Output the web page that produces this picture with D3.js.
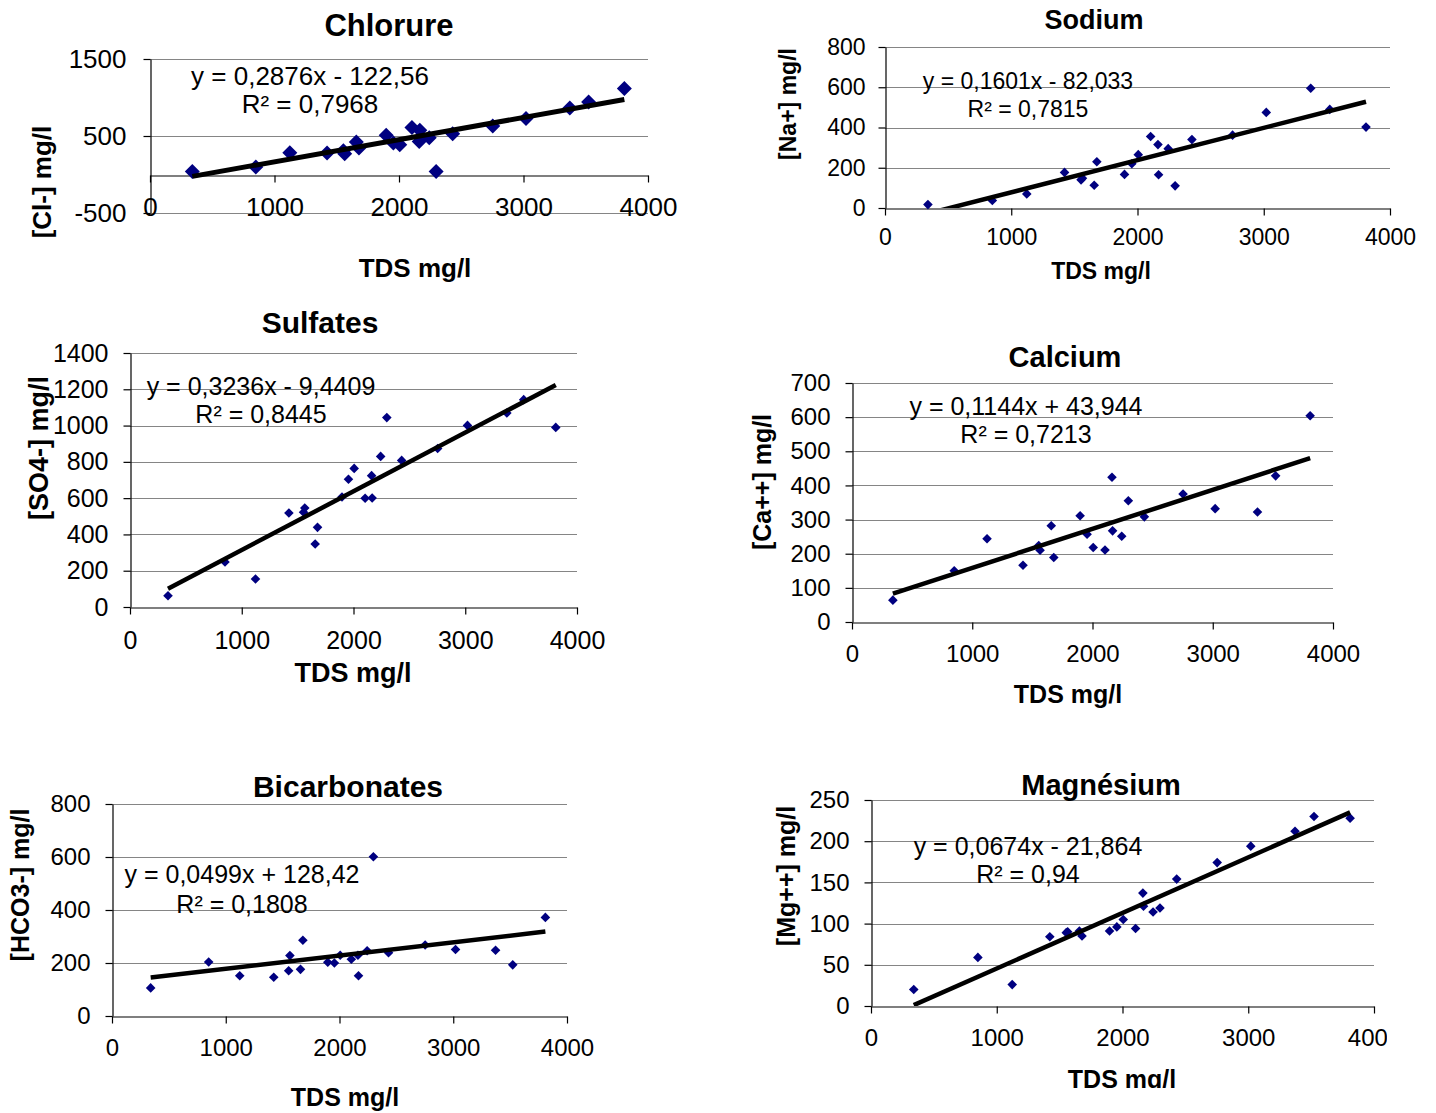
<!DOCTYPE html>
<html>
<head>
<meta charset="utf-8">
<script src="https://cdn.jsdelivr.net/npm/d3@7"></script>
<style>
  html, body { margin: 0; padding: 0; background: #fff; }
  svg { display: block; font-family: "Liberation Sans", Arial, sans-serif; }
</style>
</head>
<body>
<svg id="chart" width="1436" height="1113"></svg>
<script>
// Total dissolved solids of each sample (mg/l) – shared x values of every panel
const tds = [340, 850, 1123, 1422, 1553, 1564, 1657, 1678, 1897, 1955, 2006,
             2104, 2162, 2167, 2243, 2298, 2431, 2753, 3020, 3372, 3523, 3810];

// Ion concentrations (mg/l), same sample order as tds
const chlorure     = [39, 96, 283, 278, 310, 270, 422, 343, 509, 409, 387,
                      609, 430, 574, 478, 39, 530, 630, 726, 865, 943, 1117];
const sodium       = [17, 37, 70, 177, 140, 148, 113, 230, 167, 220, 265,
                      355, 315, 165, 295, 110, 340, 362, 475, 595, 490, 402];
const sulfates     = [62, 248, 154, 518, 522, 546, 347, 439, 606, 704, 764,
                      599, 724, 601, 830, 1044, 808, 874, 1001, 1069, 1143, 990];
const calcium      = [64, 150, 244, 166, 224, 210, 282, 189, 311, 257, 218,
                      211, 424, 267, 251, 355, 308, 375, 332, 322, 428, 604];
const bicarbonates = [106, 204, 152, 146, 171, 228, 176, 286, 203, 200, 229,
                      214, 229, 152, 246, 601, 239, 268, 251, 248, 193, 372];
const magnesium    = [20, 59, 26, 84, 89, 90, 91, 85, 91, 96, 105,
                      94, 137, 121, 114, 119, 154, 174, 194, 212, 230, 228];

// Linear fits (slope, intercept, R²) per panel
const slopes     = [0.2876, 0.1601, 0.3236, 0.1144, 0.0499, 0.0674];
const intercepts = [-122.56, -82.033, -9.4409, 43.944, 128.42, -21.864];
const rSquared   = [0.7968, 0.7815, 0.8445, 0.7213, 0.1808, 0.94];

// Labels
const panelTitles = ["Chlorure", "Sodium", "Sulfates", "Calcium", "Bicarbonates", "Magnésium"];
const yAxisTitles = ["[Cl-] mg/l", "[Na+] mg/l", "[SO4-] mg/l", "[Ca++] mg/l", "[HCO3-] mg/l", "[Mg++] mg/l"];
const xAxisTitle = "TDS mg/l";
const xTicks = [0, 1000, 2000, 3000, 4000];
const yTicksChlorure     = [-500, 500, 1500];
const yTicksSodium       = [0, 200, 400, 600, 800];
const yTicksSulfates     = [0, 200, 400, 600, 800, 1000, 1200, 1400];
const yTicksCalcium      = [0, 100, 200, 300, 400, 500, 600, 700];
const yTicksBicarbonates = [0, 200, 400, 600, 800];
const yTicksMagnesium    = [0, 50, 100, 150, 200, 250];

const series = [chlorure, sodium, sulfates, calcium, bicarbonates, magnesium];
const yTickSets = [yTicksChlorure, yTicksSodium, yTicksSulfates, yTicksCalcium, yTicksBicarbonates, yTicksMagnesium];

// Page layout of each panel (pixels)
const layout = [
  { x0: 150, x1: 648, top: 59,  bottom: 213, tick: 26, eq: 26, title: 31, axt: 26,
    titleX: 389, titleY: 36,  eqX: 310,  eqY: 85,  r2Y: 113, xTickY: 207, yTickRight: 126,
    xTitleX: 415, xTitleY: 268, yTitleX: 42, yTitleY: 182, marker: 7.5, lw: 5 },
  { x0: 885, x1: 1390, top: 47, bottom: 208, tick: 23, eq: 23, title: 27, axt: 23,
    titleX: 1094, titleY: 29, eqX: 1028, eqY: 89,  r2Y: 117, xTickY: 237, yTickRight: 865,
    xTitleX: 1101, xTitleY: 271, yTitleX: 788, yTitleY: 104, marker: 4.8, lw: 4.5 },
  { x0: 130, x1: 577, top: 353, bottom: 607, tick: 25, eq: 25, title: 30, axt: 27,
    titleX: 320, titleY: 333, eqX: 261, eqY: 395, r2Y: 423, xTickY: 640, yTickRight: 108,
    xTitleX: 353, xTitleY: 672, yTitleX: 38, yTitleY: 448, marker: 4.8, lw: 4.5 },
  { x0: 852, x1: 1333, top: 383, bottom: 622, tick: 24, eq: 25, title: 29, axt: 25,
    titleX: 1065, titleY: 367, eqX: 1026, eqY: 415, r2Y: 443, xTickY: 653, yTickRight: 830,
    xTitleX: 1068, xTitleY: 694, yTitleX: 762, yTitleY: 482, marker: 4.8, lw: 4.5 },
  { x0: 112, x1: 567, top: 804, bottom: 1016, tick: 24, eq: 25, title: 30, axt: 25,
    titleX: 348, titleY: 797, eqX: 242, eqY: 883, r2Y: 913, xTickY: 1047, yTickRight: 90,
    xTitleX: 345, xTitleY: 1097, yTitleX: 20, yTitleY: 885, marker: 4.8, lw: 4.5 },
  { x0: 871, x1: 1374, top: 800, bottom: 1006, tick: 24, eq: 25, title: 29, axt: 25,
    titleX: 1101, titleY: 795, eqX: 1028, eqY: 855, r2Y: 883, xTickY: 1037, yTickRight: 849,
    xTitleX: 1122, xTitleY: 1079, yTitleX: 786, yTitleY: 876, marker: 4.8, lw: 4.5,
    clip: { x: 0, y: 740, w: 1387, h: 348 } }
];

const svg = d3.select("#chart");
const defs = svg.append("defs");
const gridColor = "#858585";
const markerColor = "#000080";
const decimal = v => String(v).replace(".", ",");

layout.forEach((L, i) => {
  const values = series[i];
  const ticks = yTickSets[i];
  const yMin = d3.min(ticks), yMax = d3.max(ticks);

  const x = d3.scaleLinear().domain([0, 4000]).range([L.x0, L.x1]);
  const y = d3.scaleLinear().domain([yMin, yMax]).range([L.bottom, L.top]);

  let g = svg.append("g");
  if (L.clip) {
    defs.append("clipPath").attr("id", "panel-clip-" + i)
      .append("rect").attr("x", L.clip.x).attr("y", L.clip.y)
      .attr("width", L.clip.w).attr("height", L.clip.h);
    g.attr("clip-path", `url(#panel-clip-${i})`);
  }

  // plot-area clip for the fitted line
  defs.append("clipPath").attr("id", "plot-clip-" + i)
    .append("rect").attr("x", L.x0).attr("y", L.top)
    .attr("width", L.x1 - L.x0 + 2).attr("height", L.bottom - L.top);

  // horizontal gridlines
  g.append("g").selectAll("line")
    .data(ticks.filter(t => t !== 0))
    .join("line")
    .attr("x1", L.x0).attr("x2", L.x1)
    .attr("y1", d => Math.round(y(d)) + 0.5).attr("y2", d => Math.round(y(d)) + 0.5)
    .attr("stroke", gridColor).attr("stroke-width", 1.2);

  // y axis
  const yAxis = d3.axisLeft(y).tickValues(ticks).tickSize(7).tickSizeOuter(0)
    .tickPadding(L.x0 - L.yTickRight - 7).tickFormat(d => String(d));
  const ya = g.append("g").attr("transform", `translate(${L.x0 + 0.5},0)`).call(yAxis);
  ya.select(".domain").attr("stroke", "#000").attr("stroke-width", 1.2);
  ya.selectAll(".tick line").attr("stroke", "#000").attr("stroke-width", 1.2);
  ya.selectAll(".tick text").attr("font-size", L.tick).attr("fill", "#000")
    .attr("font-family", "Liberation Sans, Arial, sans-serif");

  // x axis at y = 0
  const y0 = Math.round(y(0)) + 0.5;
  const xAxis = d3.axisBottom(x).tickValues(xTicks).tickSize(7).tickSizeOuter(0)
    .tickFormat(d => String(d));
  const xa = g.append("g").attr("transform", `translate(0,${y0})`).call(xAxis);
  xa.select(".domain").attr("stroke", "#000").attr("stroke-width", 1.2);
  xa.selectAll(".tick line").attr("stroke", "#000").attr("stroke-width", 1.2);
  xa.selectAll(".tick text").attr("font-size", L.tick).attr("fill", "#000")
    .attr("font-family", "Liberation Sans, Arial, sans-serif")
    .attr("y", L.xTickY - y0).attr("dy", "0.36em");

  // data markers (diamonds)
  const r = L.marker;
  g.append("g").selectAll("path")
    .data(tds.map((t, k) => [t, values[k]]))
    .join("path")
    .attr("transform", d => `translate(${x(d[0])},${y(d[1])})`)
    .attr("d", `M0,${-r}L${r},0L0,${r}L${-r},0Z`)
    .attr("fill", markerColor);

  // fitted line across the sampled TDS range
  const xr = d3.extent(tds);
  const fit = xr.map(t => [t, slopes[i] * t + intercepts[i]]);
  g.append("path")
    .datum(fit)
    .attr("clip-path", `url(#plot-clip-${i})`)
    .attr("d", d3.line().x(d => x(d[0])).y(d => y(d[1])))
    .attr("fill", "none").attr("stroke", "#000").attr("stroke-width", L.lw);

  // equation and R²
  const sign = intercepts[i] < 0 ? "-" : "+";
  g.append("text").attr("x", L.eqX).attr("y", L.eqY).attr("text-anchor", "middle")
    .attr("font-size", L.eq)
    .text(`y = ${decimal(slopes[i])}x ${sign} ${decimal(Math.abs(intercepts[i]))}`);
  g.append("text").attr("x", L.eqX).attr("y", L.r2Y).attr("text-anchor", "middle")
    .attr("font-size", L.eq)
    .text(`R² = ${decimal(rSquared[i])}`);

  // titles
  g.append("text").attr("x", L.titleX).attr("y", L.titleY).attr("text-anchor", "middle")
    .attr("font-size", L.title).attr("font-weight", "bold").text(panelTitles[i]);
  g.append("text").attr("x", L.xTitleX).attr("y", L.xTitleY).attr("text-anchor", "middle")
    .attr("dy", "0.36em").attr("font-size", L.axt).attr("font-weight", "bold").text(xAxisTitle);
  g.append("text")
    .attr("transform", `translate(${L.yTitleX},${L.yTitleY}) rotate(-90)`)
    .attr("text-anchor", "middle").attr("dy", "0.36em")
    .attr("font-size", L.axt).attr("font-weight", "bold").text(yAxisTitles[i]);
});
</script>
</body>
</html>
